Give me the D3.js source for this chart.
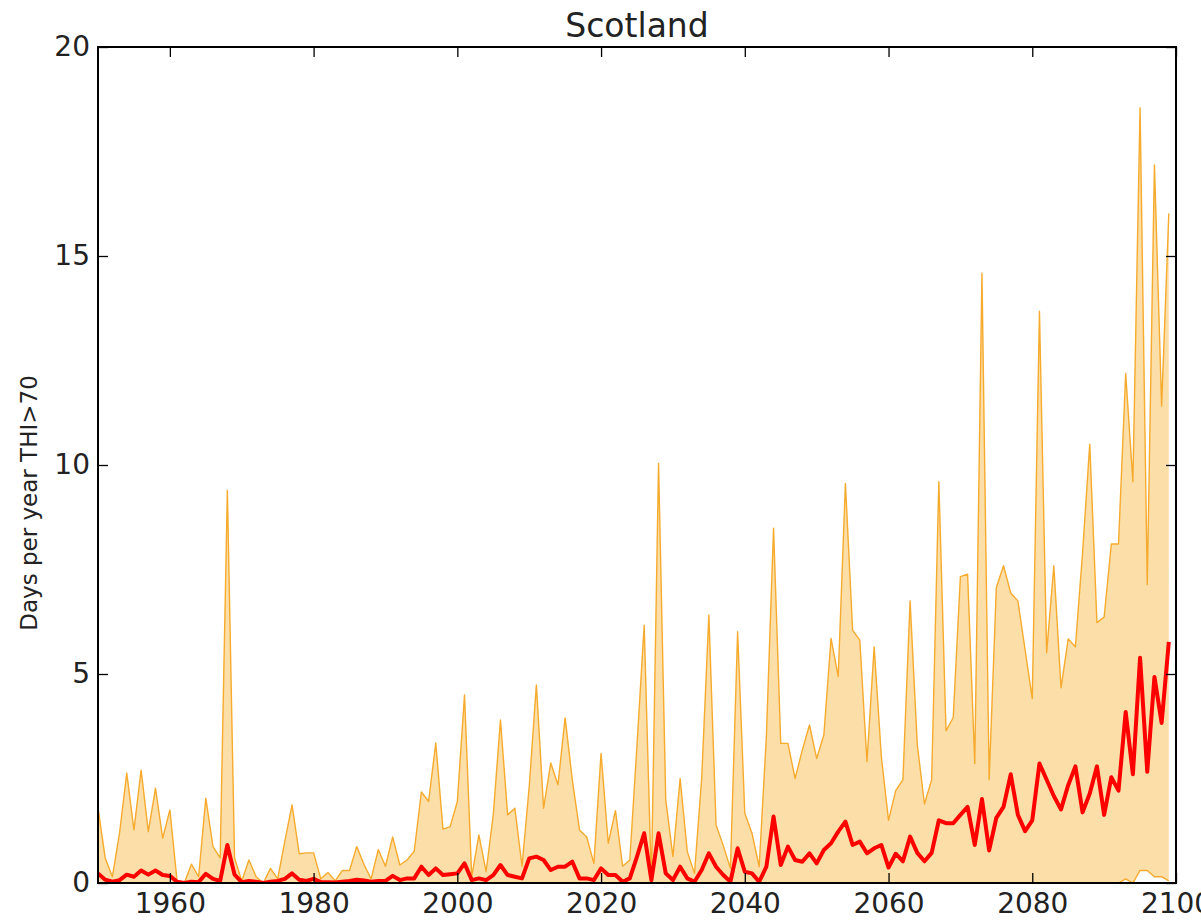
<!DOCTYPE html>
<html>
<head>
<meta charset="utf-8">
<script src="https://cdn.jsdelivr.net/npm/d3@7"></script>
<style>
  html, body { margin: 0; padding: 0; background: #fff; }
  svg { display: block; }
  text { font-family: "DejaVu Sans", sans-serif; fill: #222; }
</style>
</head>
<body>
<svg id="chart" width="1201" height="923"></svg>
<script>
const firstYear = 1950;
const title = "Scotland";
const yLabel = "Days per year THI>70";
const xTicks = [1960, 1980, 2000, 2020, 2040, 2060, 2080, 2100];
const yTicks = [0, 5, 10, 15, 20];

// ensemble maximum (upper edge of the band)
const maxValues = [
  1.8, 0.6, 0.15, 1.2, 2.63, 1.27, 2.7, 1.23, 2.27, 1.07,
  1.75, 0.05, 0.0, 0.45, 0.15, 2.03, 0.87, 0.6, 9.4, 0.6,
  0.05, 0.55, 0.15, 0.0, 0.35, 0.1, 1.0, 1.87, 0.7, 0.72,
  0.72, 0.1, 0.25, 0.05, 0.3, 0.3, 0.87, 0.45, 0.1, 0.8,
  0.4, 1.1, 0.43, 0.55, 0.76, 2.18, 1.95, 3.35, 1.29, 1.35,
  1.95, 4.5, 0.15, 1.15, 0.27, 1.63, 3.9, 1.63, 1.79, 0.4,
  2.3, 4.74, 1.79, 2.87, 2.35, 3.95, 2.46, 1.27, 1.1, 0.47,
  3.1, 0.95, 1.73, 0.4, 0.55, 3.3, 6.17, 0.03, 10.04, 1.99,
  0.63, 2.5, 0.75, 0.23, 2.5, 6.41, 1.39, 0.9, 0.35, 6.01,
  1.67, 1.19, 0.39, 3.5, 8.49, 3.34, 3.34, 2.5, 3.18, 3.78,
  2.98, 3.54, 5.85, 4.94, 9.56, 6.05, 5.81, 2.9, 5.65, 3.02,
  1.5, 2.21, 2.47, 6.75, 3.31, 1.89, 2.47, 9.6, 3.64, 3.96,
  7.33, 7.39, 2.86, 14.59, 2.47, 7.07, 7.59, 6.94, 6.75, 5.58,
  4.41, 13.68, 5.51, 7.59, 4.67, 5.84, 5.65, 7.9, 10.5, 6.23,
  6.36, 8.11, 8.11, 12.19, 9.6, 18.55, 7.14, 17.18, 11.41, 16.02
];

// ensemble minimum (lower edge of the band)
const minValues = [
  0,0,0,0,0,0,0,0,0,0, 0,0,0,0,0,0,0,0,0,0,
  0,0,0,0,0,0,0,0,0,0, 0,0,0,0,0,0,0,0,0,0,
  0,0,0,0,0,0,0,0,0,0, 0,0,0,0,0,0,0,0,0,0,
  0,0,0,0,0,0,0,0,0,0, 0,0,0,0,0,0,0,0,0,0,
  0,0,0,0,0,0,0,0,0,0, 0,0,0,0,0,0,0,0,0,0,
  0,0,0,0,0,0,0,0,0,0, 0,0,0,0,0,0,0,0,0,0,
  0,0,0,0,0,0,0,0,0,0, 0,0,0,0,0,0,0,0,0,0,
  0, 0, 0, 0.1, 0, 0.3, 0.3, 0.15, 0.15, 0.05,
  0.15, 0, 0, 0, 0.1, 0, 0.2, 0, 0.1, 0
];

// ensemble mean (red line)
const meanValues = [
  0.23, 0.08, 0.03, 0.07, 0.2, 0.15, 0.3, 0.2, 0.3, 0.19,
  0.17, 0.03, 0.0, 0.03, 0.02, 0.22, 0.1, 0.05, 0.91, 0.2,
  0.02, 0.05, 0.03, 0.0, 0.03, 0.05, 0.1, 0.23, 0.08, 0.05,
  0.1, 0.02, 0.02, 0.01, 0.03, 0.05, 0.08, 0.06, 0.03, 0.05,
  0.05, 0.17, 0.07, 0.11, 0.11, 0.39, 0.19, 0.35, 0.19, 0.21,
  0.23, 0.47, 0.07, 0.11, 0.07, 0.19, 0.43, 0.19, 0.15, 0.11,
  0.59, 0.63, 0.55, 0.31, 0.39, 0.39, 0.51, 0.11, 0.11, 0.07,
  0.35, 0.19, 0.19, 0.03, 0.11, 0.63, 1.19, 0.07, 1.19, 0.23,
  0.07, 0.39, 0.11, 0.03, 0.31, 0.71, 0.39, 0.19, 0.03, 0.83,
  0.27, 0.23, 0.03, 0.39, 1.59, 0.43, 0.87, 0.55, 0.51, 0.71,
  0.47, 0.79, 0.95, 1.23, 1.47, 0.91, 0.99, 0.71, 0.83, 0.91,
  0.37, 0.7, 0.52, 1.11, 0.72, 0.52, 0.72, 1.5, 1.43, 1.43,
  1.63, 1.82, 0.91, 2.01, 0.78, 1.56, 1.82, 2.6, 1.63, 1.24,
  1.5, 2.86, 2.47, 2.08, 1.76, 2.34, 2.79, 1.69, 2.14, 2.79,
  1.63, 2.53, 2.21, 4.09, 2.6, 5.39, 2.66, 4.93, 3.83, 5.77
];

const years = maxValues.map((_, i) => firstYear + i);
const data = years.map((yr, i) => ({ year: yr, max: maxValues[i], min: minValues[i], mean: meanValues[i] }));

const svg = d3.select("#chart");
const W = 1201, H = 923;
const margin = { left: 98, right: W - 1176, top: 47, bottom: H - 883 };
const x = d3.scaleLinear().domain([1950, 2100]).range([margin.left, W - margin.right]);
const y = d3.scaleLinear().domain([0, 20]).range([H - margin.bottom, margin.top]);

svg.append("defs").append("clipPath").attr("id", "plotclip")
  .append("rect")
  .attr("x", x(1950)).attr("y", y(20))
  .attr("width", x(2100) - x(1950)).attr("height", y(0) - y(20));

const plot = svg.append("g").attr("clip-path", "url(#plotclip)");

const area = d3.area().x(d => x(d.year)).y0(d => y(d.min)).y1(d => y(d.max));
plot.append("path").datum(data).attr("d", area)
  .attr("fill", "#FCDEA9").attr("stroke", "none");

const upper = d3.line().x(d => x(d.year)).y(d => y(d.max));
const lower = d3.line().x(d => x(d.year)).y(d => y(d.min));
plot.append("path").datum(data).attr("d", upper)
  .attr("fill", "none").attr("stroke", "#F6AB2E").attr("stroke-width", 1.4).attr("stroke-linejoin", "round");
plot.append("path").datum(data).attr("d", lower)
  .attr("fill", "none").attr("stroke", "#F6AB2E").attr("stroke-width", 1.4).attr("stroke-linejoin", "round");

const meanLine = d3.line().x(d => x(d.year)).y(d => y(d.mean));
plot.append("path").datum(data).attr("d", meanLine)
  .attr("fill", "none").attr("stroke", "#FF0000").attr("stroke-width", 4).attr("stroke-linejoin", "round");

// axes: ticks pointing inward on all four sides
const tickLen = 10;
const fontTick = 28;
const bottomAxis = d3.axisBottom(x).tickValues(xTicks).tickFormat(d3.format("d")).tickSize(-tickLen).tickPadding(10);
const topAxis = d3.axisTop(x).tickValues(xTicks).tickFormat("").tickSize(-tickLen);
const leftAxis = d3.axisLeft(y).tickValues(yTicks).tickFormat(d3.format("d")).tickSize(-tickLen).tickPadding(8);
const rightAxis = d3.axisRight(y).tickValues(yTicks).tickFormat("").tickSize(-tickLen);

function styleAxis(g) {
  g.select(".domain").remove();
  g.selectAll(".tick line").attr("stroke", "#000").attr("stroke-width", 1.3);
  g.selectAll(".tick text").attr("font-family", "DejaVu Sans, sans-serif").attr("font-size", fontTick).attr("fill", "#222");
}
svg.append("g").attr("transform", `translate(0,${y(0)})`).call(bottomAxis).call(styleAxis);
svg.append("g").attr("transform", `translate(0,${y(20)})`).call(topAxis).call(styleAxis);
svg.append("g").attr("transform", `translate(${x(1950)},0)`).call(leftAxis).call(styleAxis);
svg.append("g").attr("transform", `translate(${x(2100)},0)`).call(rightAxis).call(styleAxis);

// frame
svg.append("rect")
  .attr("x", x(1950)).attr("y", y(20))
  .attr("width", x(2100) - x(1950)).attr("height", y(0) - y(20))
  .attr("fill", "none").attr("stroke", "#000").attr("stroke-width", 2);

svg.append("text").attr("x", (x(1950) + x(2100)) / 2).attr("y", 37)
  .attr("text-anchor", "middle").attr("font-size", 33).text(title);

svg.append("text")
  .attr("transform", `translate(37,503) rotate(-90)`)
  .attr("text-anchor", "middle").attr("font-size", 23).text(yLabel);
</script>
</body>
</html>
